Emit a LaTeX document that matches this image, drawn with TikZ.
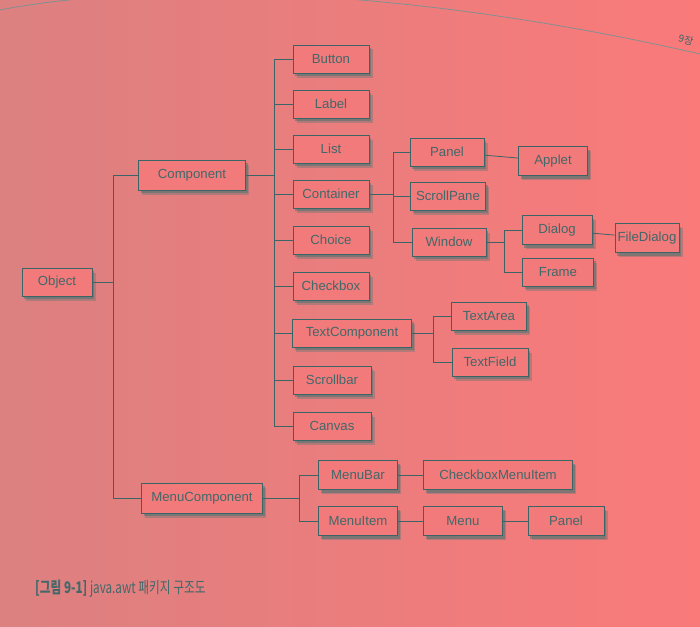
\documentclass[tikz,border=0pt]{standalone}
\usepackage{fontspec}
\setmainfont{Liberation Sans}
\newfontfamily\krfont{Noto Sans CJK KR}
\usepackage{tikz}
\usetikzlibrary{shadows}
\definecolor{pagel}{RGB}{220,128,128}
\definecolor{pager}{RGB}{250,122,122}
\definecolor{boxfill}{RGB}{242,122,122}
\definecolor{inkline}{RGB}{58,100,102}
\definecolor{inktext}{RGB}{66,104,106}
\definecolor{shadecol}{RGB}{56,114,112}
\tikzstyle{classbox} = [draw=inkline, fill=boxfill, line width=0.9pt,
    rectangle, minimum height=28pt, minimum width=76pt, inner xsep=2pt,
    text=inktext, font=\fontsize{13.2}{15}\selectfont,
    drop shadow={shadow xshift=3.5pt, shadow yshift=-4.5pt, opacity=0.3, fill=shadecol},
    drop shadow={shadow xshift=2pt, shadow yshift=-3pt, opacity=0.45, fill=shadecol}]
\tikzstyle{tree} = [draw=inkline, line width=0.8pt]

\begin{document}
\begin{tikzpicture}[x=1pt, y=-1pt]
                \useasboundingbox (0,0) rectangle (700,626);
                \fill[left color=pagel, right color=pager] (0,0) rectangle (700,626);
                \draw[inkline!70, line width=0.7pt] (0,10) .. controls (60,-2) and (150,-8) .. (220,-7)
                    .. controls (330,-6) and (500,8) .. (700,54);
                \node[text=inkline, rotate=-14, font=\krfont\fontsize{10}{11}\selectfont] (chap) at (686,40) {9장};

                \node [classbox, minimum width=70pt] (Object) at (57,282) {Object};
                \node [classbox, minimum width=107pt, minimum height=30pt] (Component) at (192,175) {Component};
                \node [classbox, minimum width=121pt, minimum height=30pt] (MenuComponent) at (202,498) {MenuComponent};

                \node [classbox] (Button) at (331,59) {Button};
                \node [classbox] (Label) at (331,104) {Label};
                \node [classbox] (List) at (331,149) {List};
                \node [classbox] (Container) at (331,194) {Container};
                \node [classbox] (Choice) at (331,240) {Choice};
                \node [classbox] (Checkbox) at (331,286) {Checkbox};
                \node [classbox, minimum width=119pt] (TextComponent) at (352,333) {TextComponent};
                \node [classbox, minimum width=78pt] (Scrollbar) at (332,380) {Scrollbar};
                \node [classbox, minimum width=78pt] (Canvas) at (332,426) {Canvas};

                \node [classbox, minimum width=74pt] (Panel) at (447,152) {Panel};
                \node [classbox, minimum width=75pt] (ScrollPane) at (448,196) {ScrollPane};
                \node [classbox, minimum width=74pt] (Window) at (449,242) {Window};
                \node [classbox, minimum width=69pt, minimum height=29pt] (Applet) at (553,161) {Applet};
                \node [classbox, minimum width=70pt, minimum height=29pt] (Dialog) at (557,230) {Dialog};
                \node [classbox, minimum width=71pt] (Frame) at (558,272) {Frame};
                \node [classbox, minimum width=64pt, minimum height=29pt] (FileDialog) at (647,238) {FileDialog};

                \node [classbox, minimum width=75pt] (TextArea) at (489,316) {TextArea};
                \node [classbox] (TextField) at (490,362) {TextField};

                \node [classbox, minimum width=79pt, minimum height=29pt] (MenuBar) at (358,475) {MenuBar};
                \node [classbox, minimum width=79pt, minimum height=29pt] (MenuItem) at (358,521) {MenuItem};
                \node [classbox, minimum width=149pt, minimum height=29pt] (CheckboxMenuItem) at (498,475) {CheckboxMenuItem};
                \node [classbox, minimum width=79pt, minimum height=29pt] (Menu) at (463,521) {Menu};
                \node [classbox, minimum width=76pt, minimum height=29pt] (MenuPanel) at (566,521) {Panel};

                \coordinate (jObject) at (113,0);
                \coordinate (jComponent) at (274,0);
                \coordinate (jContainer) at (393,0);
                \coordinate (jWindow) at (504,0);
                \coordinate (jText) at (433,0);
                \coordinate (jMenu) at (299,0);

                \draw[tree] (Object.east) -- (Object.east -| jObject);
                \draw[tree] (Component.west) -- (Component.west -| jObject) -- (MenuComponent.west -| jObject) -- (MenuComponent.west);

                \draw[tree] (Component.east) -- (Component.east -| jComponent);
                \draw[tree] (Button.west -| jComponent) -- (Canvas.west -| jComponent);
                \foreach \n in {Button,Label,List,Container,Choice,Checkbox,TextComponent,Scrollbar,Canvas}
                    \draw[tree] (\n.west) -- (\n.west -| jComponent);

                \draw[tree] (Container.east) -- (Container.east -| jContainer);
                \draw[tree] (Panel.west) -- (Panel.west -| jContainer) -- (Window.west -| jContainer) -- (Window.west);
                \draw[tree] (ScrollPane.west) -- (ScrollPane.west -| jContainer);
                \draw[tree] (Panel) -- (Applet);

                \draw[tree] (Window.east) -- (Window.east -| jWindow);
                \draw[tree] (Dialog.west) -- (Dialog.west -| jWindow) -- (Frame.west -| jWindow) -- (Frame.west);
                \draw[tree] (Dialog) -- (FileDialog);

                \draw[tree] (TextComponent.east) -- (TextComponent.east -| jText);
                \draw[tree] (TextArea.west) -- (TextArea.west -| jText) -- (TextField.west -| jText) -- (TextField.west);

                \draw[tree] (MenuComponent.east) -- (MenuComponent.east -| jMenu);
                \draw[tree] (MenuBar.west) -- (MenuBar.west -| jMenu) -- (MenuItem.west -| jMenu) -- (MenuItem.west);
                \draw[tree] (MenuBar) -- (CheckboxMenuItem);
                \draw[tree] (MenuItem) -- (Menu);
                \draw[tree] (Menu) -- (MenuPanel);

                \node[anchor=west, text=inktext, inner sep=0pt] (caption) at (35,589)
                    {\scalebox{0.73}[1]{\krfont\fontsize{16}{18}\selectfont\textbf{[그림 9-1]} java.awt 패키지 구조도}};
            \end{tikzpicture}
\end{document}
